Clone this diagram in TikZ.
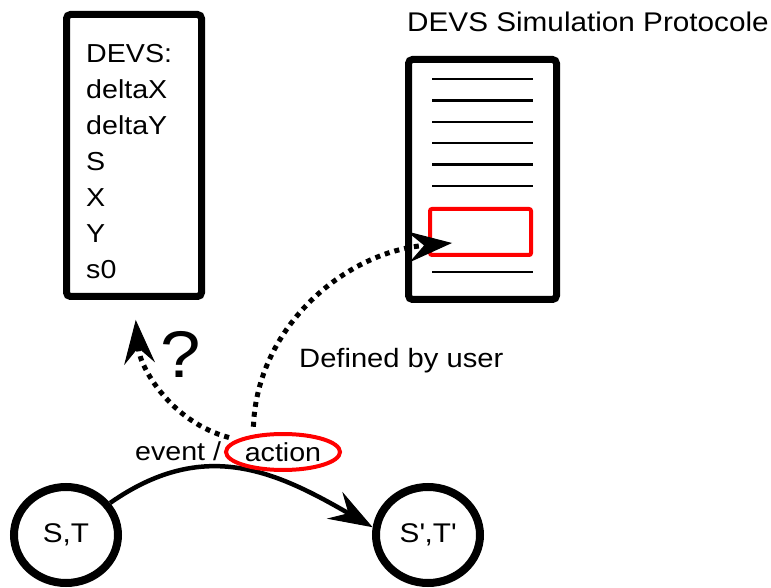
\documentclass[tikz,border=0pt]{standalone}
\usepackage{fontspec}
\setmainfont{Liberation Sans}[FakeStretch=1.1]
\usetikzlibrary{positioning,arrows.meta,shapes.geometric}

\begin{document}
\begin{tikzpicture}[x=1pt,y=1pt,
  every node/.style={font=\fontsize{26}{31}\selectfont},
  box/.style={draw,line width=7pt,rounded corners=4pt,inner sep=0pt},
  state/.style={draw,ellipse,line width=8pt,minimum width=104pt,minimum height=96pt,inner sep=0pt,font=\fontsize{27}{32}\selectfont},
  docline/.style={line width=2.5pt},
  pointer/.style={-{Stealth[length=44pt,width=31pt,inset=16pt,line width=1pt]}},
  transition/.style={pointer,line width=4.5pt},
  guess/.style={pointer,line width=5pt,dash pattern=on 5pt off 5pt}]
\useasboundingbox (0,0) rectangle (771,587);
% DEVS model
\node[box,minimum width=135pt,minimum height=282pt] (devs) at (134,431.5) {};
\foreach \t [count=\i] in {DEVS:,deltaX,deltaY,S,X,Y,s0}
  \node[anchor=base west,inner sep=0pt] (f\i) at (86,560-36*\i) {\t};
% simulation protocol
\node[font=\fontsize{27}{32}\selectfont] (title) at (588,565) {DEVS Simulation Protocole};
\node[box,minimum width=148pt,minimum height=240pt] (proto) at (482.5,407.5) {};
\foreach \k in {0,...,5}
  \draw[docline] (432,508-21.4*\k) -- (533,508-21.4*\k);
\draw[docline] (432,315) -- (533,315);
\node[draw=red,line width=4pt,rounded corners=2pt,minimum width=101pt,minimum height=46pt] (slot) at (480.5,355) {};
\coordinate (hit) at (452,344);
% states
\node[state] (st) at (66,52) {S,T};
\node[state] (st2) at (428,52) {S\textquotesingle,T\textquotesingle};
\draw[transition] (st.36) to[out=35,in=150,looseness=1.1] (st2.172);
\node[anchor=base west,inner sep=0pt] (ev) at (135,127) {event /};
\node[draw=red,ellipse,line width=4pt,minimum width=114pt,minimum height=36pt,inner sep=0pt] (act) at (283,135) {action};
% dotted links
\draw[guess,shorten <=8pt,shorten >=20pt] (act.165) to[out=165,in=-85] (devs.south);
\draw[guess,shorten <=8pt] (act.150) to[out=88,in=185] (hit);
\node[anchor=base west,inner sep=0pt,font=\fontsize{26.5}{31}\selectfont] (usr) at (299,219) {Defined by user};
\node[font=\fontsize{66}{72}\selectfont] (qm) at (181,233) {?};
\end{tikzpicture}
\end{document}
